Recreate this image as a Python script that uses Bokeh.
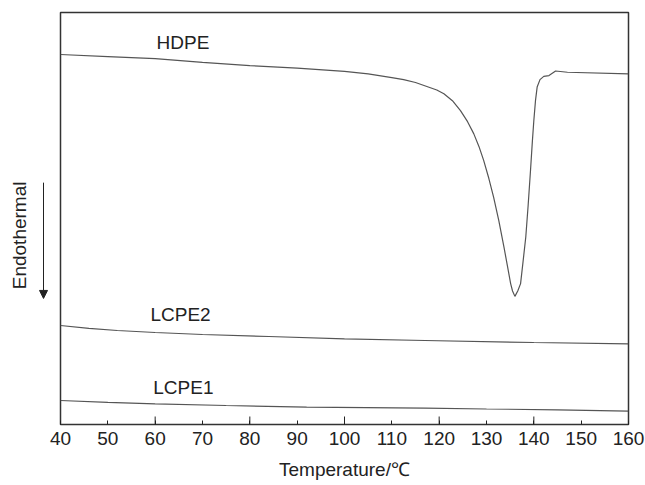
from math import pi
from bokeh.plotting import figure
from bokeh.layouts import row
from bokeh.models import Range1d, FixedTicker, Arrow, NormalHead
from bokeh.embed import file_html
from bokeh.resources import INLINE
from bokeh.core.properties import value

# ---- data ----
temp_hdpe = [40, 50, 60, 70, 80, 90, 100, 105, 110, 112.5, 115, 118, 119.5, 121,
             122.8, 124.5, 126, 127.3, 128.4, 129.4, 130.5, 131.5, 132.6, 133.7,
             134.4, 135.1, 135.5, 136.0, 136.6, 137.2, 137.7, 138.3, 138.8, 139.3,
             139.7, 140.0, 140.35, 140.7, 141.3, 142.1, 143.2, 144.6, 147.1, 160]
hf_hdpe = [89.8, 89.3, 88.8, 87.9, 87.1, 86.5, 85.7, 85.1, 84.2, 83.7, 83.0, 81.8,
           81.2, 80.3, 78.6, 76.2, 73.5, 70.6, 67.5, 64.1, 59.7, 55.2, 49.5, 43.0,
           38.6, 34.2, 32.4, 31.1, 32.4, 34.2, 39.3, 45.5, 53.2, 61.7,
           68.9, 73.8, 78.6, 81.9, 83.7, 84.5, 84.7, 85.8, 85.5, 85.1]

temp_lcpe2 = [40, 46, 52, 60, 70, 84, 100, 117, 140, 160]
hf_lcpe2 = [24.03, 23.35, 22.82, 22.33, 21.84, 21.36, 20.80, 20.39, 19.90, 19.59]

temp_lcpe1 = [40, 50, 60, 75, 92, 117, 130, 145, 160]
hf_lcpe1 = [5.83, 5.39, 5.02, 4.61, 4.20, 3.96, 3.76, 3.57, 3.23]

curve_names = ["HDPE", "LCPE2", "LCPE1"]
name_temps = [60.3, 59.0, 59.6]
name_levels = [92.7, 26.8, 9.0]

tick_values = list(range(40, 161, 10))
long_ticks = [60, 80, 100, 120, 140]

y_title = "Endothermal"
x_title = "Temperature/℃"

FONT = "Liberation Sans"
INK = "#222222"
LINE = "#555555"
FS = "19px"

Y_MIN, Y_MAX = 0, 100
FRAME_H = 412
SIDE_W = 48

# ---- side panel with the "Endothermal" title and arrow ----
side = figure(width=SIDE_W, height=485, x_range=Range1d(0, SIDE_W),
              y_range=Range1d(Y_MIN, Y_MAX),
              output_backend="svg", toolbar_location=None,
              x_axis_location=None, y_axis_location=None,
              min_border_left=0, min_border_right=0,
              min_border_top=12, min_border_bottom=61)
side.grid.visible = False
side.outline_line_color = None
side.text(x=[18.5], y=[45.9], text=[y_title], angle=pi / 2,
          text_font=value(FONT), text_font_size=FS, text_color=INK,
          text_align="center", text_baseline="middle")
side.add_layout(Arrow(end=NormalHead(size=8, fill_color=INK, line_color=INK),
                      x_start=43, y_start=58.7, x_end=43, y_end=30.6,
                      line_color=INK, line_width=1))

# ---- main plot ----
p = figure(width=645 - SIDE_W, height=485,
           x_range=Range1d(40, 160), y_range=Range1d(Y_MIN, Y_MAX),
           output_backend="svg", toolbar_location=None,
           y_axis_location=None,
           min_border_left=60 - SIDE_W, min_border_right=17, min_border_top=12,
           min_border_bottom=61)
p.grid.visible = False
p.background_fill_color = "white"
p.border_fill_color = "white"
p.outline_line_color = "#333333"
p.outline_line_width = 1.5
p.outline_line_alpha = 1.0

ax = p.xaxis[0]
ax.ticker = FixedTicker(ticks=tick_values, minor_ticks=[])
ax.axis_line_color = None
ax.major_tick_in = 4
ax.major_tick_out = 0
ax.minor_tick_in = 0
ax.minor_tick_out = 0
ax.major_tick_line_color = INK
ax.minor_tick_line_color = None
ax.major_label_standoff = 7
ax.major_label_text_font = FONT
ax.major_label_text_font_size = FS
ax.major_label_text_color = INK
ax.axis_label = x_title
ax.axis_label_text_font = FONT
ax.axis_label_text_font_size = FS
ax.axis_label_text_font_style = "normal"
ax.axis_label_text_color = INK
ax.axis_label_standoff = 11

# longer ticks every 20 degrees (8 px tall)
tick_len = 8 * (Y_MAX - Y_MIN) / FRAME_H
p.segment(x0=long_ticks, y0=[Y_MIN] * len(long_ticks),
          x1=long_ticks, y1=[Y_MIN + tick_len] * len(long_ticks),
          line_color=INK, line_width=1)

p.line(temp_hdpe, hf_hdpe, line_color=LINE, line_width=1.2)
p.line(temp_lcpe2, hf_lcpe2, line_color=LINE, line_width=1.2)
p.line(temp_lcpe1, hf_lcpe1, line_color=LINE, line_width=1.2)

p.text(x=name_temps, y=name_levels, text=curve_names,
       text_font=value(FONT), text_font_size=FS, text_color=INK,
       text_align="left", text_baseline="middle")

layout = row(side, p)
open("out.html", "w").write(file_html(layout, INLINE))
